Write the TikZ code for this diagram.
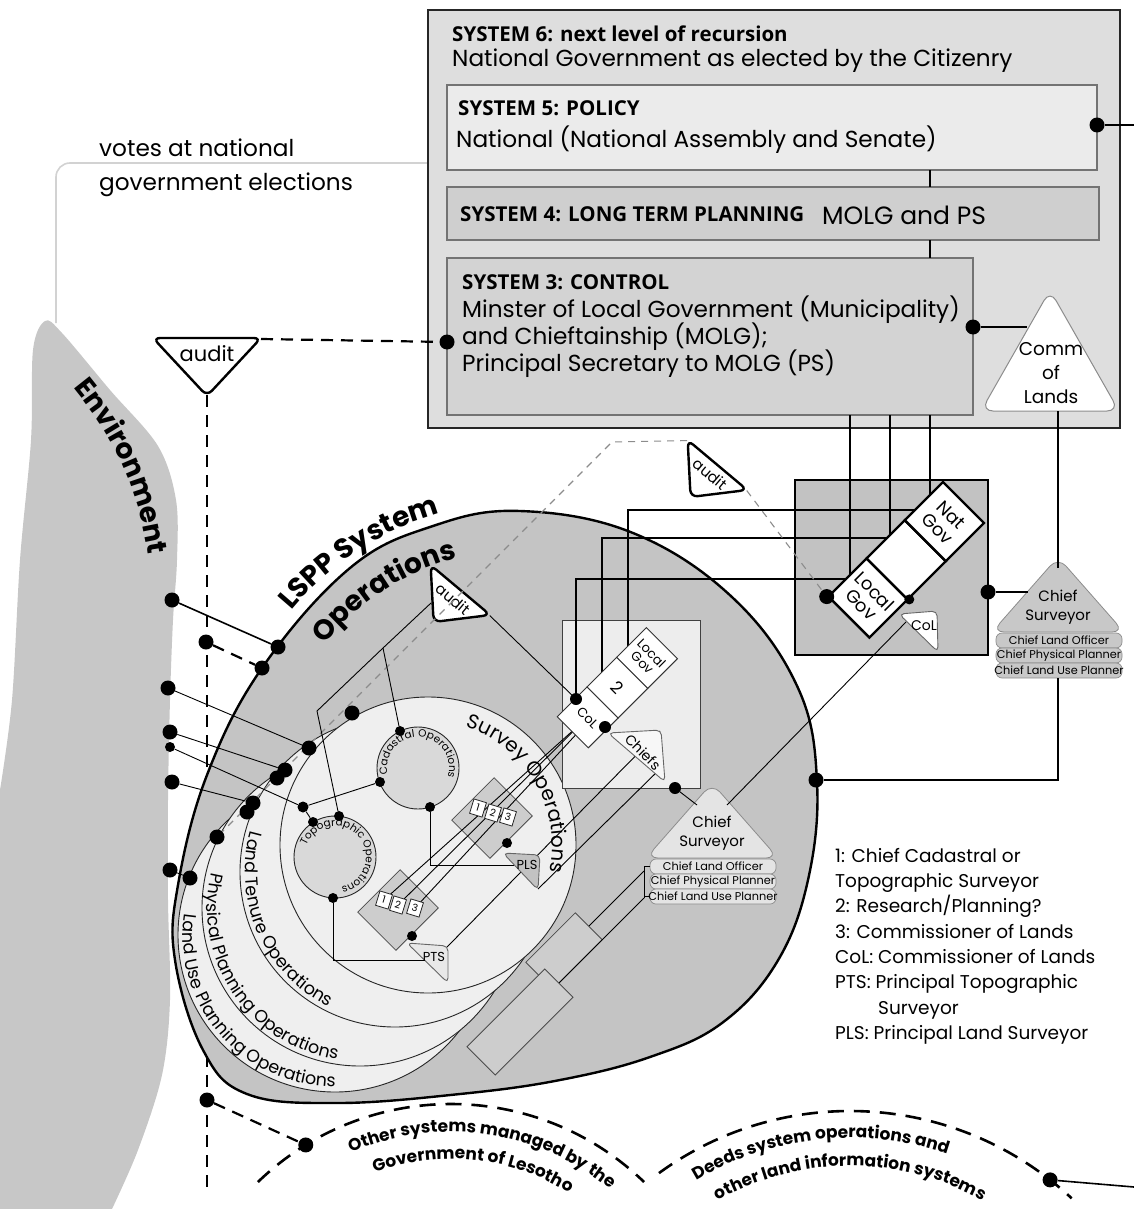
\documentclass[tikz,border=0pt]{standalone}
\usepackage{fontspec}
\setmainfont{Poppins}
\newfontfamily\headfont{Open Sans}
\usetikzlibrary{calc,positioning,decorations.text}

\definecolor{envgray}{HTML}{C7C7C7}
\definecolor{lsppgray}{HTML}{C4C4C4}
\definecolor{sixgray}{HTML}{DEDEDE}
\definecolor{fivegray}{HTML}{EBEBEB}
\definecolor{fourgray}{HTML}{CFCFCF}
\definecolor{threegray}{HTML}{D3D3D3}
\definecolor{diskgray}{HTML}{EFEFEF}
\definecolor{opgray}{HTML}{D9D9D9}
\definecolor{govgray}{HTML}{C2C2C2}
\definecolor{mggray}{HTML}{CDCDCD}
\definecolor{votegray}{HTML}{D2D2D2}
\definecolor{csdark}{HTML}{C8C8C8}
\definecolor{cslight}{HTML}{E4E4E4}

\newcommand\fsz[2]{\fontsize{#1}{#2}\selectfont}
\newcommand\lsppfont{\bfseries\fsz{28}{28}}
\newcommand\opfont{\fsz{17.5}{17.5}}
\newcommand\smallop{\fsz{10.5}{10.5}}
\newcommand\arcfont{\bfseries\fsz{17}{17}}

\tikzset{
  junc/.style={circle,fill=black,inner sep=0pt,minimum size=15pt},
  juncs/.style={circle,fill=black,inner sep=0pt,minimum size=10pt},
  wire/.style={line width=1.6pt},
  fine/.style={line width=0.9pt},
  dashwire/.style={line width=2.2pt,dash pattern=on 12pt off 8pt},
  greydash/.style={line width=1.1pt,draw=black!45,dash pattern=on 7pt off 6pt},
  sysbox/.style={draw=black!55,line width=1.2pt},
  sysname/.style={anchor=base west,inner sep=0pt,font=\headfont\bfseries\fsz{20.5}{20.5}},
  systext/.style={anchor=base west,inner sep=0pt,font=\fsz{23.2}{23.2}},
  disk/.style={draw=black!85,line width=0.9pt,fill=diskgray},
  opdisk/.style={draw=black!85,line width=0.9pt,fill=opgray},
  govbox/.style={draw,line width=2.4pt,fill=white,rotate=-45,minimum width=58pt,
    minimum height=54pt,inner sep=0pt,align=center,font=\fsz{18}{19}},
  sgovbox/.style={draw=black!80,line width=0.9pt,fill=white,rotate=-45,minimum width=44pt,
    minimum height=42pt,inner sep=0pt,align=center,font=\fsz{13}{13}},
  tab/.style={draw=black!60,line width=0.9pt,rounded corners=5pt},
  mgbox/.style={draw=black!70,line width=0.8pt,fill=mggray,rotate=-45,minimum width=54pt,minimum height=60pt},
  numbox/.style={draw=black!85,line width=0.8pt,fill=white,rotate=-17,minimum width=13pt,
    minimum height=15pt,inner sep=0pt,font=\fsz{10}{10}},
  pill/.style={draw=black!45,line width=0.7pt,rounded corners=6pt},
  along/.style={decorate,decoration={text along path,text align=center,text={#1}}},
  audit/.pic={
    \draw[line width=2.4pt,fill=white,rounded corners=7pt] (-54,-29) -- (54,-29) -- (0,29) -- cycle;
    \node[font=\fsz{21}{21}] (-txt) at (0,-13) {audit};
    \coordinate (-l) at (-54,-28);
    \coordinate (-r) at (54,-28);
    \coordinate (-b) at (0,28);
  },
  pics/chiefsv/.style={code={
    \draw[draw=black!45,line width=0.8pt,fill=#1,rounded corners=12pt] (0,-74) -- (66,1) -- (-66,1) -- cycle;
    \node[font=\fsz{15}{19},align=center] (-name) at (0,-24) {Chief\\Surveyor};
    \draw[pill,fill=#1] (-62,2) rectangle (64,17);
    \draw[pill,fill=#1] (-62,17) rectangle (64,32);
    \draw[pill,fill=#1] (-62,32) rectangle (64,47);
    \node[font=\fsz{11.3}{11}] (-p1) at (1,9.5) {Chief Land Officer};
    \node[font=\fsz{11.3}{11}] (-p2) at (1,24.5) {Chief Physical Planner};
    \node[font=\fsz{11.3}{11}] (-p3) at (1,39.5) {Chief Land Use Planner};
    \coordinate (-top) at (0,-63);
    \coordinate (-bot) at (0,47);
    \coordinate (-lside) at (-30,-39);
    \coordinate (-apl) at (-15,-52);
    \coordinate (-apr) at (15,-52);
    \coordinate (-b1) at (-62,9.5);
    \coordinate (-b3) at (-62,39.5);
  }},
}

\begin{document}
\begin{tikzpicture}[x=1pt,y=-1pt]
\useasboundingbox (0,0) rectangle (1134,1209);

% Environment
\fill[envgray] plot[smooth,tension=0.55] coordinates {(0,790) (12,700) (20,560) (31,440) (33,350)
  (45,321) (62,333) (110,390) (158,446) (176,500) (177,560) (173,620) (170,700) (168,800)
  (168,900) (170,1000) (162,1075) (138,1150) (112,1209)} -- (0,1209) -- cycle;
\path[along={|\lsppfont|Environment}] (47,358) .. controls (106,422) and (146,484) .. (152,594);

% votes at national government elections
\coordinate (s6vote) at (428,163);
\coordinate (envtop) at (56,323);
\draw[votegray,line width=1.6pt,rounded corners=14pt] (s6vote) -| (envtop);
\node[systext] (votes1) at (99,157) {votes at national};
\node[systext] (votes2) at (99,190) {government elections};

% Systems 6 to 3
\draw[fill=sixgray,draw=black!85,line width=2.2pt] (428,10) rectangle (1120,428);
\node[sysname] (s6name) at (452,42) {SYSTEM 6: next level of recursion};
\node[systext] (s6text) at (452,67) {National Government as elected by the Citizenry};
\draw[sysbox,fill=fivegray] (447,85) rectangle (1097,170);
\node[sysname] (s5name) at (458,116) {SYSTEM 5: POLICY};
\node[systext] (s5text) at (456,148) {National (National Assembly and Senate)};
\draw[sysbox,fill=fourgray] (447,187) rectangle (1099,240);
\node[sysname] (s4name) at (460,221) {SYSTEM 4: LONG TERM PLANNING};
\node[systext,font=\fsz{25}{25}] (s4text) at (822,224) {MOLG and PS};
\draw[sysbox,fill=threegray] (447,258) rectangle (973,415);
\node[sysname] (s3name) at (462,289) {SYSTEM 3: CONTROL};
\node[systext] (s3a) at (462,317) {Minster of Local Government (Municipality)};
\node[systext] (s3b) at (462,344) {and Chieftainship (MOLG);};
\node[systext] (s3c) at (462,371) {Principal Secretary to MOLG (PS)};
\coordinate (s5b) at (930,170); \coordinate (s4t) at (930,187);
\coordinate (s4b) at (930,240); \coordinate (s3t) at (930,258);
\draw[wire] (s5b) -- (s4t);
\draw[wire] (s4b) -- (s3t);
\node[junc] (s5r) at (1097,125) {};
\coordinate (s5out) at (1134,125);
\draw[wire] (s5r) -- (s5out);

% Commissioner of Lands
\draw[fill=white,draw=black!45,line width=1pt,rounded corners=12pt] (1050,290) -- (1119,411) -- (981,411) -- cycle;
\node[font=\fsz{18.5}{24},align=center] (comm) at (1051,373) {Comm\\of\\Lands};
\coordinate (comml) at (1027,327);
\coordinate (commb) at (1058,411);
\node[junc] (s3r) at (973,327) {};
\draw[wire] (s3r) -- (comml);

% audit of System 3
\node[junc] (s3l) at (447,342) {};
\pic (audtop) at (207,367) {audit};
\coordinate (dashend) at (207,1187);
\draw[dashwire] (audtop-b) -- (dashend);
\draw[dashwire] (audtop-r) -- (s3l);

% Government box on the right
\draw[fill=govgray,line width=2.2pt] (795,480) rectangle (988,655);
\coordinate (s3o1) at (850,415); \coordinate (s3o2) at (890,415); \coordinate (s3o3) at (930,415);
\coordinate (lgin) at (850,578); \coordinate (gmin) at (890,539); \coordinate (ngin) at (930,499);
\draw[wire] (s3o1) -- (lgin);
\draw[wire] (s3o2) -- (gmin);
\draw[wire] (s3o3) -- (ngin);

% LSPP system
\draw[fill=lsppgray,line width=2.4pt] plot[smooth cycle,tension=0.65] coordinates {(175,960) (178,885)
  (207,775) (262,668) (350,568) (433,526) (520,511) (633,533) (733,598) (798,688) (817,782)
  (808,880) (777,962) (722,1023) (650,1057) (560,1080) (460,1094) (338,1103) (247,1094) (203,1050)};
\path[along={|\lsppfont|LSPP System}] ([shift={(-152:297)}]520,800) arc[start angle=-152,end angle=-94,radius=297];
\path[along={|\lsppfont|Operations}] ([shift={(-152:250)}]520,800) arc[start angle=-152,end angle=-94,radius=250];

% hidden management boxes
\node[mgbox,minimum width=38pt,minimum height=70pt] (mglt) at (564,951) {};
\node[mgbox,minimum width=40pt,minimum height=110pt] (mgpp) at (520,1022) {};

% operations disks
\draw[disk] (335,935) circle[radius=157];
\draw[disk] (360,908) circle[radius=158];
\draw[disk] (395,872) circle[radius=155];
\draw[disk] (428,845) circle[radius=148];
\path[along={|\opfont|Land Use Planning Operations}] ([shift={(-160:152)}]335,935) arc[start angle=-160,end angle=-282,radius=152];
\path[along={|\opfont|Physical Planning Operations}] ([shift={(-155:153)}]360,908) arc[start angle=-155,end angle=-273,radius=153];
\path[along={|\opfont|Land Tenure Operations}] ([shift={(-150:150)}]395,872) arc[start angle=-150,end angle=-258,radius=150];
\path[along={|\fsz{20}{20}|Survey Operations}] ([shift={(-82:124)}]428,845) arc[start angle=-82,end angle=22,radius=124];

% cadastral and topographic operations
\draw[opdisk] (418,768) circle[radius=41];
\draw[opdisk] (335,857) circle[radius=41];
\path[along={|\smallop|Cadastral Operations}] ([shift={(-215:31)}]418,768) arc[start angle=-215,end angle=40,radius=31];
\path[along={|\smallop|Topographic Operations}] ([shift={(-185:31)}]335,857) arc[start angle=-185,end angle=105,radius=31];

% audits of the operations
\pic[rotate=-40,scale=0.72,transform shape] (audbig) at (704,481) {audit};
\pic[rotate=-40,scale=0.72,transform shape] (audin) at (447,606) {audit};
\coordinate (gbend) at (612,442);
\node[junc] (lu1) at (217,837) {};
\draw[greydash] (audbig-l) -- (gbend) -- (lu1);

% local office box
\node[draw=black!75,line width=0.9pt,fill=black!7,minimum width=138pt,minimum height=168pt,inner sep=0pt] (lbox) at (631,704) {};

% survey management boxes
\node[mgbox] (mgup) at (492,818) {};
\node[mgbox] (mglo) at (398,910) {};
\coordinate (up1) at (478,808); \coordinate (up2) at (493,813); \coordinate (up3) at (508,817);
\coordinate (lo1) at (384,900); \coordinate (lo2) at (398,905); \coordinate (lo3) at (415,908);
\coordinate (slgc) at (647,658);
\coordinate (stwoc) at ($(slgc)+(-29.7,29.7)$);
\coordinate (scolc) at ($(stwoc)+(-29.7,29.7)$);
\coordinate (lgc) at (868,598);
\coordinate (gmidc) at ($(lgc)+(38.2,-38.2)$);
\coordinate (ngc) at ($(gmidc)+(38.2,-38.2)$);
\draw[fine] (lo1) -- (scolc);
\draw[fine] (lo2) -- (stwoc);
\draw[fine] (lo3) -- (slgc);

% lines into the government box
\coordinate (slgtop) at (628,648); \coordinate (stwotop) at (602,674); \coordinate (scoldot) at (576,699);
\coordinate (nghz) at (918,510); \coordinate (gmhz) at (890,538); \coordinate (lghz) at (849,579);
\draw[line width=1.1pt] (slgtop) |- (nghz);
\draw[line width=1.1pt] (stwotop) |- (gmhz);
\draw[line width=1.1pt] (scoldot) |- (lghz);

% links inside the survey disk
\node[junc,minimum size=11pt] (tp0) at (303,807) {};
\coordinate (audinl) at (431,603);
\coordinate (kink2) at (383,648);
\coordinate (kink1) at (317,711);
\node[juncs] (cd1) at (400,731) {};
\node[juncs] (cd2) at (380,782) {};
\node[juncs] (cd3) at (430,807) {};
\node[juncs] (tp1) at (339,816) {};
\node[juncs] (tp2) at (313,822) {};
\node[juncs] (tp3) at (333,898) {};
\draw[fine] (audinl) -- (kink2) -- (kink1) -- (tp1);
\draw[fine] (kink2) -- (cd1);
\draw[fine] (tp0) -- (cd2);
\draw[fine] (tp0) -- (tp2);
\coordinate (plsin) at (514,865);
\coordinate (ptsin) at (424,960);
\draw[fine] (cd3) |- (plsin);
\draw[fine] (tp3) |- (ptsin);
\coordinate (ptsr) at (447,947); \coordinate (chiefsa) at (660,731);
\coordinate (plsb) at (538,889); \coordinate (chiefsb) at (663,766);
\draw[fine] (ptsr) -- (chiefsa);
\draw[fine] (plsb) -- (chiefsb);
\draw[fine] (audin-r) -- (scoldot);

% number boxes and tabs
\foreach \n in {1,2,3} {
  \node[numbox] (nu\n) at (up\n) {\n};
  \node[numbox] (nl\n) at (lo\n) {\n};
}
\draw[tab,fill=black!24] (503,853) -- (540,855) -- (538,890) -- cycle;
\node[font=\fsz{13}{13}] (pls) at (527,865) {PLS};
\draw[tab,fill=black!9] (407,943) -- (448,946) -- (448,983) -- cycle;
\node[font=\fsz{13}{13}] (pts) at (434,957) {PTS};
\node[juncs] (plsdot) at (507,843) {};
\node[juncs] (ptsdot) at (412,936) {};

% small government strip
\node[sgovbox] (slg) at (slgc) {Local\\Gov};
\node[sgovbox,font=\fsz{17}{17}] (stwo) at (stwoc) {2};
\node[sgovbox] (scol) at (scolc) {CoL};
\draw[tab,fill=black!3] (608,733) -- (661,730) -- (665,782) -- cycle;
\node[rotate=-45,font=\fsz{14}{14}] (chiefs) at (643,752) {Chiefs};
\node[juncs,minimum size=12pt] (scd) at (scoldot) {};
\node[juncs,minimum size=12pt] (scd2) at (605,727) {};

% big government strip
\node[govbox] (lg) at (lgc) {Local\\Gov};
\node[govbox] (gmid) at (gmidc) {};
\node[govbox] (ng) at (ngc) {Nat\\Gov};
\draw[tab,fill=white] (899,614) -- (937,611) -- (938,652) -- cycle;
\node[font=\fsz{14}{14}] (coltxt) at (924,626) {CoL};
\coordinate (coltab) at (906,622);
\node[junc] (lgdot) at (lg.south west) {};
\node[juncs] (lgne) at (lg.north east) {};
\draw[greydash] (audbig-r) -- (lgdot);
\node[junc] (grr) at (988,592) {};

% chief surveyors
\pic (csbig) at (1058,631) {chiefsv=csdark};
\pic (cssm) at (712,857) {chiefsv=cslight};
\node[junc] (bright) at (816,780) {};
\draw[wire] (grr) -- (csbig-lside);
\draw[wire] (commb) -- (csbig-top);
\draw[wire] (csbig-bot) |- (bright);
\node[juncs,minimum size=12pt] (lboxdot) at (675,788) {};
\draw[fine] (lboxdot) -- (cssm-apl);
\draw[fine] (coltab) -- (cssm-apr);
\coordinate (brk1) at (644,871); \coordinate (brk2) at (644,898);
\draw[fine] (cssm-b1) -| (brk1) -- (brk2) |- (cssm-b3);
\draw[fine] (brk1) -- (mglt.north);
\draw[fine] (brk2) -- (mgpp.north);

% environment links
\node[junc] (e0) at (172,600) {};
\node[junc] (e1) at (168,688) {};
\node[junc] (e2) at (170,732) {};
\node[juncs] (e3) at (170,747) {};
\node[junc] (e4) at (172,782) {};
\node[junc] (e5) at (170,870) {};
\node[junc] (b1) at (278,647) {};
\node[junc] (b2) at (262,668) {};
\node[junc] (d0) at (206,642) {};
\node[junc] (sv1) at (309,748) {};
\node[junc] (sv2) at (352,713) {};
\node[junc] (lt1) at (285,770) {};
\node[junc] (lt2) at (277,778) {};
\node[junc] (pp1) at (253,803) {};
\node[junc] (pp2) at (247,812) {};
\node[junc] (lu2) at (190,878) {};
\draw[wire] (e0) -- (b1);
\draw[dashwire] (d0) -- (b2);
\draw[fine] (e1) -- (sv1);
\draw[fine] (e2) -- (lt1);
\draw[fine] (e3) -- (tp0);
\draw[fine] (e4) -- (pp1);
\draw[fine] (e5) -- (lu2);

% other systems
\node[junc] (d1) at (207,1100) {};
\node[junc] (o1) at ([shift={(-121.5:278)}]451,1382) {};
\draw[dashwire] (d1) -- (o1);
\draw[line width=2.6pt,dash pattern=on 16pt off 10pt] ([shift={(-134:278)}]451,1382) arc[start angle=-134,end angle=-46,radius=278];
\draw[line width=2.6pt,dash pattern=on 16pt off 10pt] ([shift={(-126:325)}]850,1436) arc[start angle=-126,end angle=-47,radius=325];
\path[along={|\arcfont|Other systems managed by the}] ([shift={(-135:250)}]451,1382) arc[start angle=-135,end angle=-29,radius=250];
\path[along={|\arcfont|Government of Lesotho}] ([shift={(-135:223)}]451,1382) arc[start angle=-135,end angle=-33,radius=223];
\path[along={|\arcfont|Deeds system operations and}] ([shift={(-141:298)}]850,1436) arc[start angle=-141,end angle=-51,radius=298];
\path[along={|\arcfont|other land information systems}] ([shift={(-135:270)}]850,1436) arc[start angle=-135,end angle=-45,radius=270];
\node[junc] (o2) at ([shift={(-52:325)}]850,1436) {};
\coordinate (o2out) at (1134,1187);
\draw[wire] (o2) -- (o2out);

% key
\node[anchor=north west,inner sep=0pt,font=\fsz{18.5}{25.3},align=left] (legend) at (835,848)
  {1: Chief Cadastral or\\Topographic Surveyor\\2: Research/Planning?\\3: Commissioner of Lands\\
   CoL: Commissioner of Lands\\PTS: Principal Topographic\\\hspace*{43pt}Surveyor\\PLS: Principal Land Surveyor};
\end{tikzpicture}
\end{document}
